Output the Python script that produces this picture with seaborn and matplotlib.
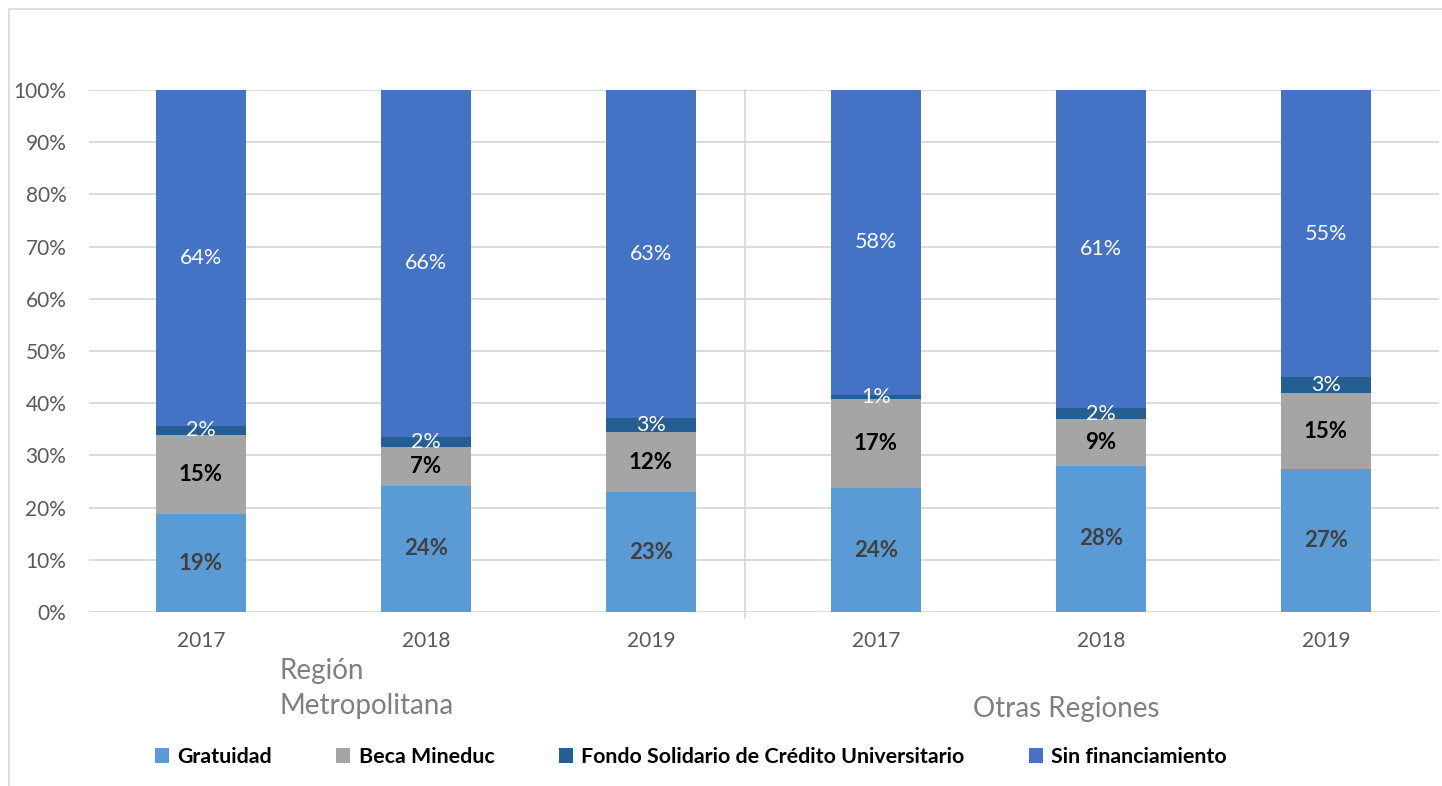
import numpy as np
import pandas as pd
import matplotlib
matplotlib.use("Agg")
import matplotlib.pyplot as plt
import seaborn as sns
from matplotlib.patches import Patch, Rectangle

# ---------------- data ----------------
regions = ["Región Metropolitana"] * 3 + ["Otras Regiones"] * 3
years = ["2017", "2018", "2019", "2017", "2018", "2019"]
gratuidad = [18.7, 24.2, 22.9, 23.7, 28.0, 27.3]
beca = [15.3, 7.4, 11.5, 17.1, 8.9, 14.7]
fscu = [1.6, 2.0, 2.8, 0.8, 2.1, 3.0]
sin_fin = [64.4, 66.4, 62.8, 58.4, 61.0, 55.0]
series_names = ["Gratuidad", "Beca Mineduc",
                "Fondo Solidario de Crédito Universitario", "Sin financiamiento"]
y_ticks = list(range(0, 101, 10))
y_tick_labels = [f"{t}%" for t in y_ticks]

# ---------------- style ----------------
colors = ["#5B9BD5", "#A5A5A5", "#255E91", "#4472C4"]
label_colors = ["#404040", "#000000", "#FFFFFF", "#FFFFFF"]
label_weights = ["bold", "bold", "normal", "normal"]
label_sizes = [16, 16, 15.5, 15.5]

sns.set_style("white")
plt.rcParams["font.family"] = ["Lato", "DejaVu Sans"]

W, H = 1442, 786
fig = plt.figure(figsize=(W / 100, H / 100), dpi=100)
ax = fig.add_axes([88.5 / W, 1 - 612 / H, (1438.5 - 88.5) / W, (612 - 90) / H])

keys = [f"{r} {y}" for r, y in zip(regions, years)]
series = [gratuidad, beca, fscu, sin_fin]
cum = np.cumsum(np.array(series), axis=0)
df = pd.DataFrame({"key": keys})
for i, name in enumerate(series_names):
    df[name] = cum[i]

# draw from the top of the stack down so lower segments overlay
for i in reversed(range(len(series_names))):
    sns.barplot(data=df, x="key", y=series_names[i], order=keys, color=colors[i],
                saturation=1, width=0.4, errorbar=None, linewidth=0, ax=ax)

# data labels
for i in range(len(series_names)):
    for j in range(len(keys)):
        v = series[i][j]
        mid = cum[i][j] - v / 2
        ax.text(j, mid, f"{v:.0f}%", ha="center", va="center",
                fontsize=label_sizes[i], color=label_colors[i],
                fontweight=label_weights[i], zorder=5)

ax.set_xlim(-0.5, 5.5)
ax.set_ylim(0, 100)
ax.set_yticks(y_ticks)
ax.set_yticklabels(y_tick_labels)
ax.set_xticks(range(len(keys)))
ax.set_xticklabels(years)
ax.tick_params(axis="y", length=0, pad=16, labelsize=15, labelcolor="#595959")
ax.tick_params(axis="x", length=0, pad=14, labelsize=15, labelcolor="#595959")
ax.set_xlabel("")
ax.set_ylabel("")
ax.yaxis.grid(True, color="#d9d9d9", linewidth=1.3)
ax.xaxis.grid(False)
ax.set_axisbelow(True)
for s in ax.spines.values():
    s.set_visible(False)

# group separator
ax.plot([2.418, 2.418], [100, -1.2], color="#d9d9d9", linewidth=1.3,
        clip_on=False, zorder=0)

# group labels
fig.text(279 / W, 1 - 679 / H, "Región", ha="left", va="baseline",
         fontsize=20, color="#7f7f7f")
fig.text(279 / W, 1 - 714 / H, "Metropolitana", ha="left", va="baseline",
         fontsize=20, color="#7f7f7f")
fig.text(1066 / W, 1 - 717 / H, "Otras Regiones", ha="center", va="baseline",
         fontsize=20, color="#7f7f7f")

# legend
handles = [Patch(facecolor=c, edgecolor="none") for c in colors]
leg = fig.legend(handles, series_names, ncol=4, loc="center",
                 bbox_to_anchor=(691 / W, 1 - 757 / H), frameon=False,
                 fontsize=15.4, handlelength=0.65, handleheight=0.65,
                 handletextpad=0.4, columnspacing=3.0)
for t in leg.get_texts():
    t.set_fontweight("bold")
    t.set_color("#000000")

# outer chart border (clipped by canvas at right/bottom)
fig.patches.append(Rectangle((9 / W, -0.1), 1.2, 1 - 9 / H + 0.1, fill=False,
                             edgecolor="#d9d9d9", linewidth=1.2,
                             transform=fig.transFigure, figure=fig))

fig.savefig("out.png", dpi=100)
